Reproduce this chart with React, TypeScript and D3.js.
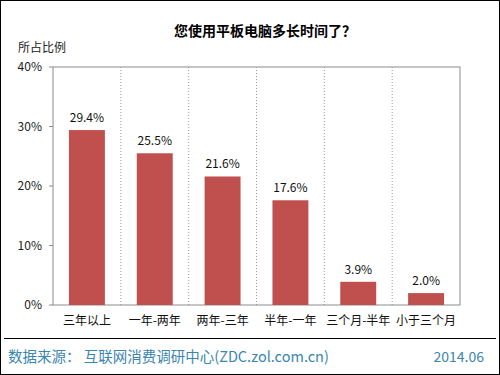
import React from 'react';
import * as d3 from 'd3';

const categories = ['三年以上', '一年-两年', '两年-三年', '半年-一年', '三个月-半年', '小于三个月'];
const values = [29.4, 25.5, 21.6, 17.6, 3.9, 2.0];
const yTicks = [0, 10, 20, 30, 40];

const W = 500;
const H = 375;
const margin = { top: 67, right: 40, bottom: 70, left: 53 };
const font = '"Noto Sans CJK SC", "DejaVu Sans", sans-serif';

export default function App() {
  const innerW = W - margin.left - margin.right;
  const innerH = H - margin.top - margin.bottom;

  const x = d3.scaleBand<string>()
    .domain(categories)
    .range([0, innerW])
    .paddingInner(0.47)
    .paddingOuter(0.235);

  const y = d3.scaleLinear().domain([0, 40]).range([innerH, 0]);

  // band boundaries for the dotted separators
  const step = innerW / categories.length;
  const seps = d3.range(1, categories.length).map(i => i * step);

  return (
    <svg width={W} height={H} style={{ position: 'absolute', left: 0, top: 0, background: '#fff' }}>
      <rect x={0.5} y={0.5} width={W - 1} height={H - 1} fill="#fff" stroke="#000" strokeWidth={1} />
      <text x={265} y={36} textAnchor="middle" fontFamily={font} fontWeight="bold" fontSize={14} fill="#000">
        您使用平板电脑多长时间了？
      </text>
      <text x={18} y={52} fontFamily={font} fontSize={12} fill="#222">所占比例</text>

      <g transform={`translate(${margin.left},${margin.top})`}>
        {seps.map((s, i) => (
          <line key={i} x1={s} x2={s} y1={0} y2={innerH} stroke="#999" strokeDasharray="1,2" />
        ))}
        <rect x={0} y={0} width={innerW} height={innerH} fill="none" stroke="#8c8c8c" />
        {yTicks.map(t => (
          <g key={t} transform={`translate(0,${y(t)})`}>
            <line x1={-4} x2={0} stroke="#8c8c8c" />
            <text x={-11} dy="0.35em" textAnchor="end" fontFamily={font} fontSize={12} fill="#222">{t}%</text>
          </g>
        ))}
        {categories.map((c, i) => (
          <g key={c}>
            <rect x={x(c)} y={y(values[i])} width={x.bandwidth()} height={innerH - y(values[i])} fill="#C0504D" />
            <text x={(x(c) ?? 0) + x.bandwidth() / 2} y={y(values[i]) - 8} textAnchor="middle"
              fontFamily={font} fontSize={12} fill="#111">{values[i].toFixed(1)}%</text>
            <text x={(x(c) ?? 0) + x.bandwidth() / 2} y={innerH + 20} textAnchor="middle"
              fontFamily={font} fontSize={12} fill="#111">{c}</text>
          </g>
        ))}
      </g>

      <line x1={4} x2={496} y1={338.5} y2={338.5} stroke="#000" strokeWidth={1} />
      <text x={8} y={362} fontFamily={font} fontSize={14.5} fill="#3a86b0">
        数据来源： 互联网消费调研中心(ZDC.zol.com.cn)
      </text>
      <text x={484} y={362} textAnchor="end" fontFamily={font} fontSize={14} fill="#3a86b0">2014.06</text>
    </svg>
  );
}
